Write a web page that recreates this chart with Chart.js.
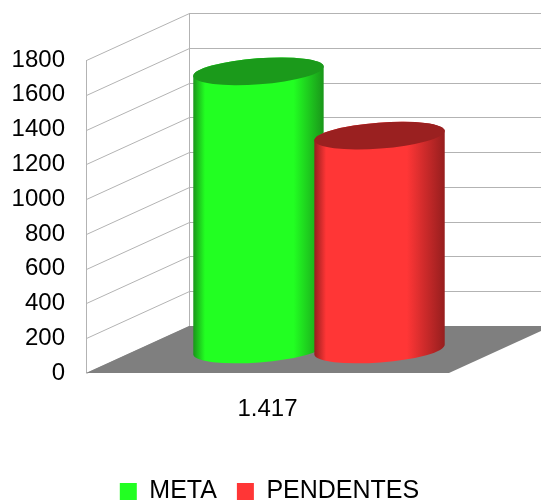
<!DOCTYPE html>
<html lang="pt">
<head>
    <meta charset="UTF-8">
    <title>META x PENDENTES</title>
    <script src="https://cdn.jsdelivr.net/npm/chart.js"></script>
    <style>
        html, body { margin: 0; padding: 0; background: #fff; }
        canvas { display: block; }
    </style>
</head>
<body>
    <canvas id="chart" width="541" height="502"></canvas>

    <script>
        // data
        const categories = ['1.417'];
        const seriesNames = ['META', 'PENDENTES'];
        const metaValues = [1600];
        const pendentesValues = [1230];
        const yTicks = [0, 200, 400, 600, 800, 1000, 1200, 1400, 1600, 1800];

        const FONT = "'Liberation Sans', Arial, sans-serif";
        // depth of the fake 3d box (back wall offset from front plane)
        const DX = 103, DY = -47;

        const colors = [
            { light: '#22ff22', dark: '#1a961a', top: '#1b9a1b' },
            { light: '#ff3636', dark: '#961e1e', top: '#9a2020' }
        ];

        function drawCylinder(ctx, cx, topY, baseY, rx, ry, c, edge) {
            const a = -0.075;
            const lx = cx - rx * Math.cos(a), rxp = cx + rx * Math.cos(a);
            const g = ctx.createLinearGradient(lx, 0, rxp, 0);
            g.addColorStop(0, c.dark);
            g.addColorStop(0.09, c.light);
            g.addColorStop(edge, c.light);
            g.addColorStop(1, c.dark);
            ctx.beginPath();
            ctx.ellipse(cx, baseY, rx, ry, a, Math.PI, 0, true);
            ctx.lineTo(cx + rx * Math.cos(a), topY + rx * Math.sin(a));
            ctx.ellipse(cx, topY, rx, ry, a, 0, Math.PI, true);
            ctx.closePath();
            ctx.fillStyle = g;
            ctx.fill();
            ctx.beginPath();
            ctx.ellipse(cx, topY, rx, ry, a, 0, Math.PI * 2);
            ctx.fillStyle = c.top;
            ctx.fill();
        }

        const box3d = {
            id: 'box3d',
            afterLayout(chart) {
                // legend sits a bit lower and more to the right than chart.js puts it
                const lg = chart.legend;
                lg.top += 12; lg.bottom += 12;
                lg.left += 45; lg.right += 45;
            },
            beforeDatasetsDraw(chart) {
                const ctx = chart.ctx;
                const y = chart.scales.y;
                const area = chart.chartArea;
                const L = area.left, R = area.right, B = y.getPixelForValue(0);
                const T = y.getPixelForValue(yTicks[yTicks.length - 1]);
                ctx.save();
                ctx.lineWidth = 1;
                ctx.strokeStyle = '#b3b3b3';
                // side wall + back wall grid
                yTicks.forEach(v => {
                    const py = Math.round(y.getPixelForValue(v)) + 0.5;
                    ctx.beginPath();
                    ctx.moveTo(L + 0.5, py);
                    ctx.lineTo(L + DX + 0.5, py + DY);
                    ctx.lineTo(chart.width + 5, py + DY);
                    ctx.stroke();
                });
                ctx.beginPath();
                ctx.moveTo(L + 0.5, Math.round(T));
                ctx.lineTo(L + 0.5, Math.round(B));
                ctx.moveTo(L + DX + 0.5, Math.round(T + DY));
                ctx.lineTo(L + DX + 0.5, Math.round(B + DY));
                ctx.stroke();
                // floor
                ctx.beginPath();
                ctx.moveTo(L, B);
                ctx.lineTo(R, B);
                ctx.lineTo(R + DX, B + DY);
                ctx.lineTo(L + DX, B + DY);
                ctx.closePath();
                ctx.fillStyle = '#7f7f7f';
                ctx.fill();
                // cylinders, set half way into the box
                const edges = [0.77, 0.71];
                chart.data.datasets.forEach((ds, i) => {
                    const meta = chart.getDatasetMeta(i);
                    meta.data.forEach(bar => {
                        const cx = bar.x + DX / 2;
                        const rx = bar.width * 0.54;
                        drawCylinder(ctx, cx, bar.y + DY / 2, B + DY / 2, rx, 13, colors[i], edges[i]);
                    });
                });
                ctx.restore();
                return false;
            }
        };

        new Chart(document.getElementById('chart'), {
            type: 'bar',
            data: {
                labels: categories,
                datasets: [
                    { label: seriesNames[0], data: metaValues, backgroundColor: colors[0].light, borderWidth: 0 },
                    { label: seriesNames[1], data: pendentesValues, backgroundColor: colors[1].light, borderWidth: 0 }
                ]
            },
            options: {
                responsive: false,
                animation: false,
                layout: { padding: { top: 60, right: 92, left: 0, bottom: 0 } },
                datasets: { bar: { categoryPercentage: 0.667, barPercentage: 1 } },
                scales: {
                    x: {
                        grid: { display: false, drawTicks: false },
                        border: { display: false },
                        ticks: { color: '#000', font: { family: FONT, size: 24 }, padding: 22 },
                        afterFit(s) { s.height = 129 - (s.chart.legend ? s.chart.legend.height : 0); }
                    },
                    y: {
                        min: 0,
                        max: 1800,
                        grid: { display: false, drawTicks: false },
                        border: { display: false },
                        afterBuildTicks(s) { s.ticks = yTicks.map(v => ({ value: v })); },
                        ticks: {
                            color: '#000',
                            font: { family: FONT, size: 24 },
                            padding: 21,
                            callback: v => String(v)
                        },
                        afterFit(s) { s.width = 86; }
                    }
                },
                plugins: {
                    tooltip: { enabled: false },
                    legend: {
                        position: 'bottom',
                        labels: {
                            color: '#000',
                            font: { family: FONT, size: 25 },
                            boxWidth: 17,
                            boxHeight: 17,
                            padding: 20
                        }
                    }
                }
            },
            plugins: [box3d]
        });
    </script>
</body>
</html>
